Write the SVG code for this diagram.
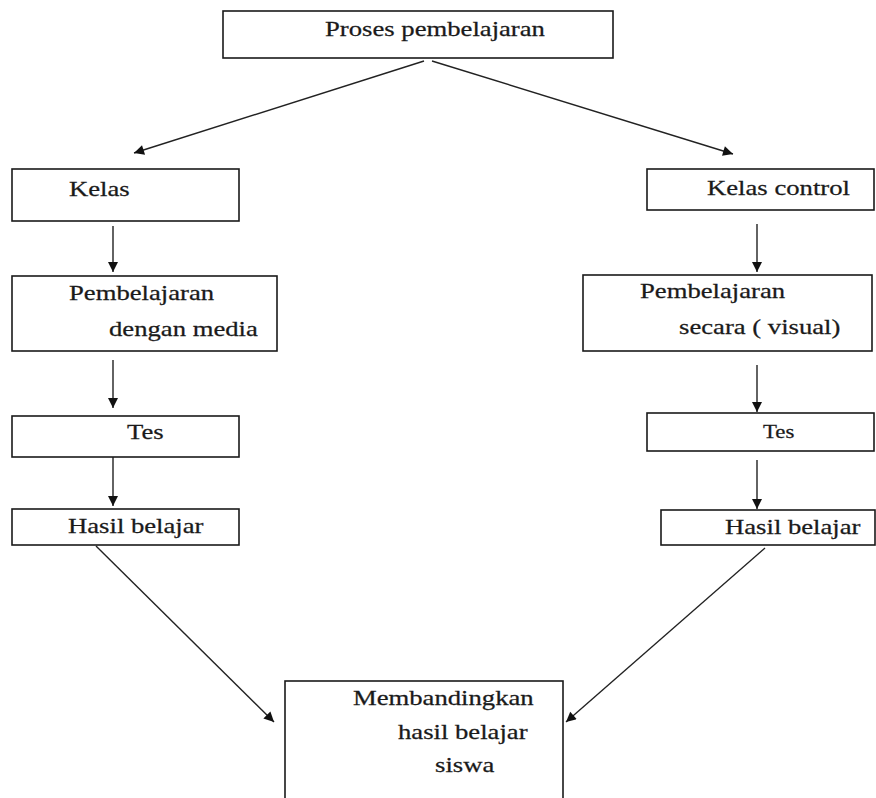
<svg xmlns="http://www.w3.org/2000/svg" width="876" height="798" viewBox="0 0 876 798">
<style>
.box{fill:#fff;stroke:#1a1a1a;stroke-width:1.6}
.t{font-family:"Liberation Serif","DejaVu Serif","Times New Roman",serif;font-size:21px;fill:#1a1a1a;stroke:#1a1a1a;stroke-width:0.25}
.c{stroke:#222;stroke-width:1.4;fill:none}
</style>
<defs>
<marker id="ah" viewBox="0 0 10 10" refX="10" refY="5" markerWidth="11" markerHeight="10" markerUnits="userSpaceOnUse" orient="auto">
<path d="M0,0 L10,5 L0,10 Z" fill="#111"/>
</marker>
</defs>
<rect width="876" height="798" fill="#fff"/>
<g id="connectors">
<line class="c" x1="424" y1="61" x2="134" y2="153" marker-end="url(#ah)"/>
<line class="c" x1="432" y1="61" x2="733" y2="154" marker-end="url(#ah)"/>
<line class="c" x1="113" y1="226" x2="113" y2="272" marker-end="url(#ah)"/>
<line class="c" x1="113" y1="360" x2="113" y2="408" marker-end="url(#ah)"/>
<line class="c" x1="113" y1="457" x2="113" y2="506" marker-end="url(#ah)"/>
<line class="c" x1="757" y1="224" x2="757" y2="272" marker-end="url(#ah)"/>
<line class="c" x1="757" y1="365" x2="757" y2="412" marker-end="url(#ah)"/>
<line class="c" x1="757" y1="460" x2="757" y2="509" marker-end="url(#ah)"/>
<line class="c" x1="96" y1="546" x2="274" y2="722" marker-end="url(#ah)"/>
<line class="c" x1="765" y1="548" x2="566" y2="722" marker-end="url(#ah)"/>
</g>
<g id="proses">
<rect class="box" x="223" y="11" width="390" height="47"/>
<text class="t" transform="translate(325,36) scale(1.27,1)">Proses pembelajaran</text>
</g>
<g id="kelas">
<rect class="box" x="12" y="169" width="227" height="52"/>
<text class="t" transform="translate(69,196) scale(1.27,1)">Kelas</text>
</g>
<g id="pemb-media">
<rect class="box" x="12" y="276" width="265" height="75"/>
<text class="t" transform="translate(69,300) scale(1.27,1)">Pembelajaran</text>
<text class="t" transform="translate(109,336) scale(1.27,1)">dengan media</text>
</g>
<g id="tes-kiri">
<rect class="box" x="12" y="416" width="227" height="41"/>
<text class="t" transform="translate(127,439) scale(1.27,1)">Tes</text>
</g>
<g id="hasil-kiri">
<rect class="box" x="12" y="509" width="227" height="36"/>
<text class="t" transform="translate(68,533) scale(1.27,1)">Hasil belajar</text>
</g>
<g id="kelas-control">
<rect class="box" x="647" y="169" width="227" height="41"/>
<text class="t" transform="translate(707,195) scale(1.27,1)">Kelas control</text>
</g>
<g id="pemb-visual">
<rect class="box" x="583" y="275" width="289" height="76"/>
<text class="t" transform="translate(640,298) scale(1.27,1)">Pembelajaran</text>
<text class="t" transform="translate(679,334) scale(1.27,1)">secara ( visual)</text>
</g>
<g id="tes-kanan">
<rect class="box" x="647" y="413" width="227" height="38"/>
<text class="t" transform="translate(763,438) scale(1.27,1)" style="font-size:18px">Tes</text>
</g>
<g id="hasil-kanan">
<rect class="box" x="661" y="510" width="214" height="35"/>
<text class="t" transform="translate(725,534) scale(1.27,1)">Hasil belajar</text>
</g>
<g id="membandingkan">
<rect class="box" x="285" y="681" width="278" height="140"/>
<text class="t" transform="translate(353,705) scale(1.27,1)">Membandingkan</text>
<text class="t" transform="translate(398,739) scale(1.27,1)">hasil belajar</text>
<text class="t" transform="translate(435,772) scale(1.27,1)">siswa</text>
</g>
</svg>
